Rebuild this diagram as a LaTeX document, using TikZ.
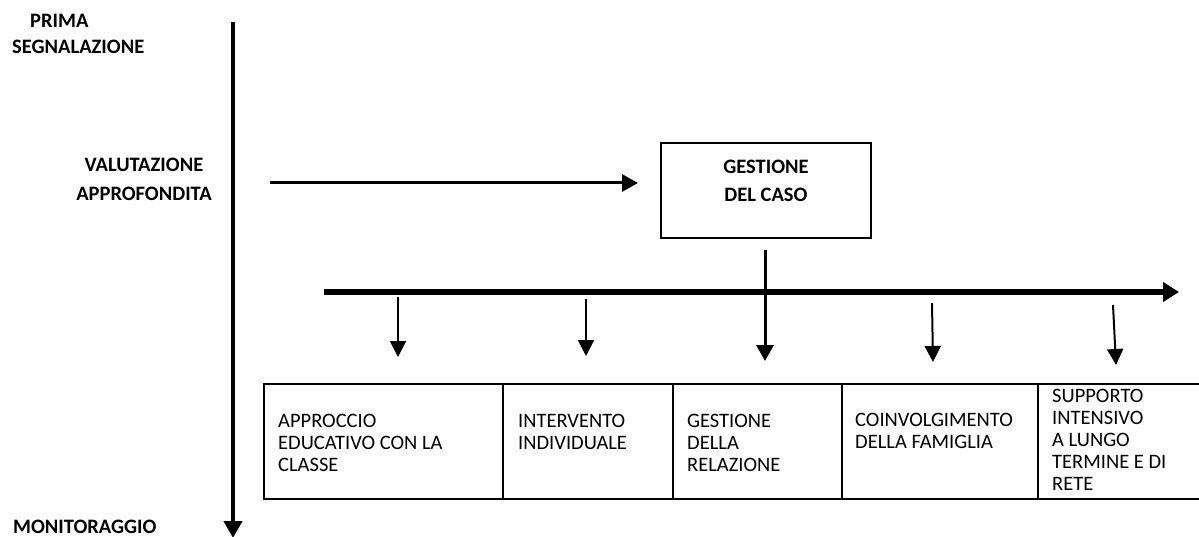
\documentclass[tikz,border=0pt]{standalone}
\usepackage{fontspec}
\setmainfont{Carlito}
\usetikzlibrary{arrows.meta}
\tikzset{
  lbl/.style={font=\bfseries\fontsize{20.5}{27}\selectfont, inner sep=0pt, align=center},
  celltext/.style={font=\fontsize{20.5}{22}\selectfont, inner sep=0pt, align=left, anchor=north west},
  cell/.style={draw, line width=2.2pt, inner sep=0pt},
  thinarrow/.style={line width=2pt, -{Triangle[length=16pt,width=16pt]}},
  midarrow/.style={line width=3pt, -{Triangle[length=16pt,width=17pt]}},
}
\begin{document}
\begin{tikzpicture}[x=1pt,y=-1pt]
\clip (0,0) rectangle (1199,537);
\fill[white] (0,0) rectangle (1199,537);
% left labels
\node[lbl, anchor=north west, align=left, font=\bfseries\fontsize{20.5}{26.5}\selectfont] (prima) at (12,14) {\hspace*{18pt}PRIMA\\SEGNALAZIONE};
\node[lbl, anchor=north, font=\bfseries\fontsize{20.5}{29}\selectfont] (valut) at (144,158) {VALUTAZIONE\\APPROFONDITA};
\node[lbl, anchor=south west] (monit) at (13,534) {MONITORAGGIO};
% time axis
\coordinate (axtop) at (233,22);
\coordinate (axbot) at (233,538);
\draw[line width=4.5pt, -{Triangle[length=17pt,width=18pt]}] (axtop) -- (axbot);
% case management box
\node[draw, line width=2pt, minimum width=210pt, minimum height=95pt, inner sep=0pt] (caso) at (766,190.5) {};
\node[lbl, anchor=north, font=\bfseries\fontsize{20.5}{28}\selectfont] (casotxt) at (766,160) {GESTIONE\\DEL CASO};
\coordinate (hstart) at (270,183);
\coordinate (hend) at (638,183);
\draw[midarrow] (hstart) -- (hend);
% main horizontal arrow
\coordinate (mstart) at (324,292);
\coordinate (mend) at (1179,292);
\draw[line width=6.5pt, -{Triangle[length=16pt,width=19pt]}] (mstart) -- (mend);
\coordinate (cdown) at (765,250);
\coordinate (cdownend) at (765,361);
\draw[midarrow] (cdown) -- (cdownend);
% bottom cells
\node[cell, minimum width=239pt, minimum height=115pt, anchor=north west] (c1) at (263,383) {};
\node[cell, minimum width=170pt, minimum height=115pt, anchor=north west] (c2) at (502,383) {};
\node[cell, minimum width=169pt, minimum height=115pt, anchor=north west] (c3) at (672,383) {};
\node[cell, minimum width=196pt, minimum height=115pt, anchor=north west] (c4) at (841,383) {};
\node[cell, minimum width=180pt, minimum height=115pt, anchor=north west] (c5) at (1037,383) {};
\node[celltext] (t1) at (278,414) {APPROCCIO\\EDUCATIVO CON LA\\CLASSE};
\node[celltext] (t2) at (518,414) {INTERVENTO\\INDIVIDUALE};
\node[celltext] (t3) at (687,414) {GESTIONE\\DELLA\\RELAZIONE};
\node[celltext] (t4) at (855,413) {COINVOLGIMENTO\\DELLA FAMIGLIA};
\node[celltext] (t5) at (1052,389) {SUPPORTO\\INTENSIVO\\A LUNGO\\TERMINE E DI\\RETE};
% small arrows
\draw[thinarrow] (398,297) -- (398,357);
\draw[thinarrow] (586,299) -- (586,356);
\draw[thinarrow] (932,303) -- (933,362);
\draw[thinarrow] (1113,305) -- (1116,365);
\end{tikzpicture}
\end{document}
